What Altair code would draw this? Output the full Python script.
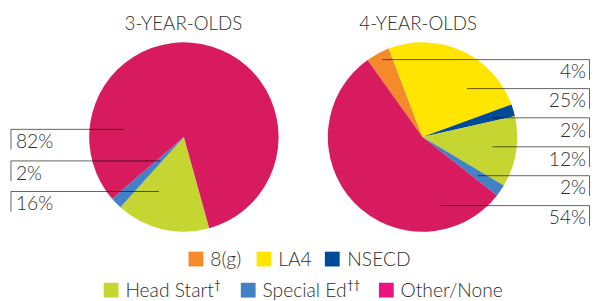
import math
import altair as alt
import pandas as pd

# ---------------- data ----------------
cats = ["8(g)", "LA4", "NSECD", "Head Start", "Special Ed", "Other/None"]
pct3 = [0, 0, 0, 16, 2, 82]
pct4 = [4, 25, 2, 12, 2, 54]
pie_colors = ["#F58A2B", "#FFE500", "#004A98", "#C5D632", "#4480C5", "#D81B5E"]
legend_colors = ["#F58A2B", "#FFE500", "#004A98", "#C5D632", "#4480C5", "#EB1380"]
legend_marks = ["", "", "", "\u2020", "\u2020\u2020", ""]
titles = ["3-YEAR-OLDS", "4-YEAR-OLDS"]
order3 = ["Other/None", "Special Ed", "Head Start"]  # label order, top to bottom
order4 = cats

# ---------------- layout (image pixels) ----------------
OFF = 8
W, H = 592, 293
R = 96
C3 = (186.3, 136.8)
C4 = (428.2, 136.8)
START3 = 164.5
START4 = 324.5
FONT = "Lato"
TXT = "#2e2e2e"
FS_TITLE = 19
FS_LAB = 19.5
FS_LEG = 19.5

left_rows_y = [129, 161, 192]
left_anchor_x = [125.7, 162.3, 161]
left_x = 11
right_rows_y = [58.3, 87.7, 117.3, 146.7, 176, 206.3]
right_anchor_x = [387.3, 473.3, 499.3, 499.3, 484.3, 445.7]
right_x = 597.5
drop = 20.5
text_dy = 19

leg_sq_x = [198.5, 267.5, 336.7, 112.5, 251.5, 391.5]
leg_tx_x = [213, 282, 352, 127, 266, 406]
leg_row_y = [260.5, 292]
leg_base_y = [267.5, 299]
dag_x = [0, 0, 0, 217, 352, 0]

XS = alt.Scale(domain=[OFF, OFF + W], nice=False, zero=False)
YS = alt.Scale(domain=[OFF, OFF + H], reverse=True, nice=False, zero=False)


def X(f):
    return alt.X(f"{f}:Q", scale=XS, axis=None)


def Y(f):
    return alt.Y(f"{f}:Q", scale=YS, axis=None)


def pie(vals, center, start):
    df = pd.DataFrame({"cat": cats, "val": vals, "ord": list(range(len(cats)))})
    df = df[df["val"] > 0]
    a0 = math.radians(start)
    return alt.Chart(df).mark_arc(outerRadius=R, strokeWidth=0).encode(
        theta=alt.Theta("val:Q", stack=True,
                        scale=alt.Scale(range=[a0, a0 + 2 * math.pi])),
        color=alt.Color("cat:N", scale=alt.Scale(domain=cats, range=pie_colors),
                        legend=None),
        order=alt.Order("ord:Q"),
        x=alt.value(center[0] - OFF),
        y=alt.value(center[1] - OFF),
    )


pie3 = pie(pct3, C3, START3)
pie4 = pie(pct4, C4, START4)

# callout lines
rules = []
labels = []
v3 = dict(zip(cats, pct3))
v4 = dict(zip(cats, pct4))
for c, y, ax in zip(order3, left_rows_y, left_anchor_x):
    rules.append({"x": left_x, "x2": ax, "y": y, "y2": y})
    rules.append({"x": left_x, "x2": left_x, "y": y, "y2": y + drop})
    labels.append({"x": 16, "y": y + text_dy, "t": f"{v3[c]}%", "side": "L"})
for c, y, ax in zip(order4, right_rows_y, right_anchor_x):
    rules.append({"x": ax, "x2": right_x, "y": y, "y2": y})
    rules.append({"x": right_x, "x2": right_x, "y": y, "y2": y + drop})
    labels.append({"x": 594, "y": y + text_dy, "t": f"{v4[c]}%", "side": "R"})

rule_df = pd.DataFrame(rules)
lab_df = pd.DataFrame(labels)

rule_layer = alt.Chart(rule_df).mark_rule(color="#000000", opacity=0.62, strokeWidth=1).encode(
    x=X("x"), x2="x2:Q", y=Y("y"), y2="y2:Q")

lab_l = alt.Chart(lab_df[lab_df.side == "L"]).mark_text(
    align="left", baseline="alphabetic", font=FONT, fontSize=FS_LAB, fontWeight=300, color=TXT
).encode(x=X("x"), y=Y("y"), text="t:N")
lab_r = alt.Chart(lab_df[lab_df.side == "R"]).mark_text(
    align="right", baseline="alphabetic", font=FONT, fontSize=FS_LAB, fontWeight=300, color=TXT
).encode(x=X("x"), y=Y("y"), text="t:N")

title_df = pd.DataFrame({"x": [C3[0] - 0.5, 423.8], "y": [28.3, 28.3], "t": titles})
title_layer = alt.Chart(title_df).mark_text(
    align="center", baseline="alphabetic", font=FONT, fontSize=FS_TITLE, fontWeight=300, color=TXT
).encode(x=X("x"), y=Y("y"), text="t:N")

# legend
rows = [0, 0, 0, 1, 1, 1]
leg_df = pd.DataFrame({
    "cat": cats,
    "col": legend_colors,
    "sx": leg_sq_x,
    "tx": leg_tx_x,
    "sy": [leg_row_y[r] for r in rows],
    "ty": [leg_base_y[r] for r in rows],
    "dag": legend_marks,
    "dx": dag_x,
    "dy": [leg_base_y[r] - 8.5 for r in rows],
})
leg_sq = alt.Chart(leg_df).mark_square(size=225, opacity=1, filled=True).encode(
    x=X("sx"), y=Y("sy"), color=alt.Color("col:N", scale=None))
leg_tx = alt.Chart(leg_df).mark_text(
    align="left", baseline="alphabetic", font=FONT, fontSize=FS_LEG, fontWeight=300, color=TXT
).encode(x=X("tx"), y=Y("ty"), text="cat:N")
leg_dag = alt.Chart(leg_df[leg_df.dag != ""]).mark_text(
    align="left", baseline="alphabetic", font=FONT, fontSize=11, color=TXT
).encode(x=X("dx"), y=Y("dy"), text="dag:N")

chart = alt.layer(
    pie3, pie4, rule_layer, lab_l, lab_r, title_layer, leg_sq, leg_tx, leg_dag
).resolve_scale(
    theta="independent", color="independent"
).properties(
    width=W, height=H, padding=0, autosize="none"
).configure_view(stroke=None)

chart.save("out.html", embed_options={"renderer": "svg", "actions": False})
